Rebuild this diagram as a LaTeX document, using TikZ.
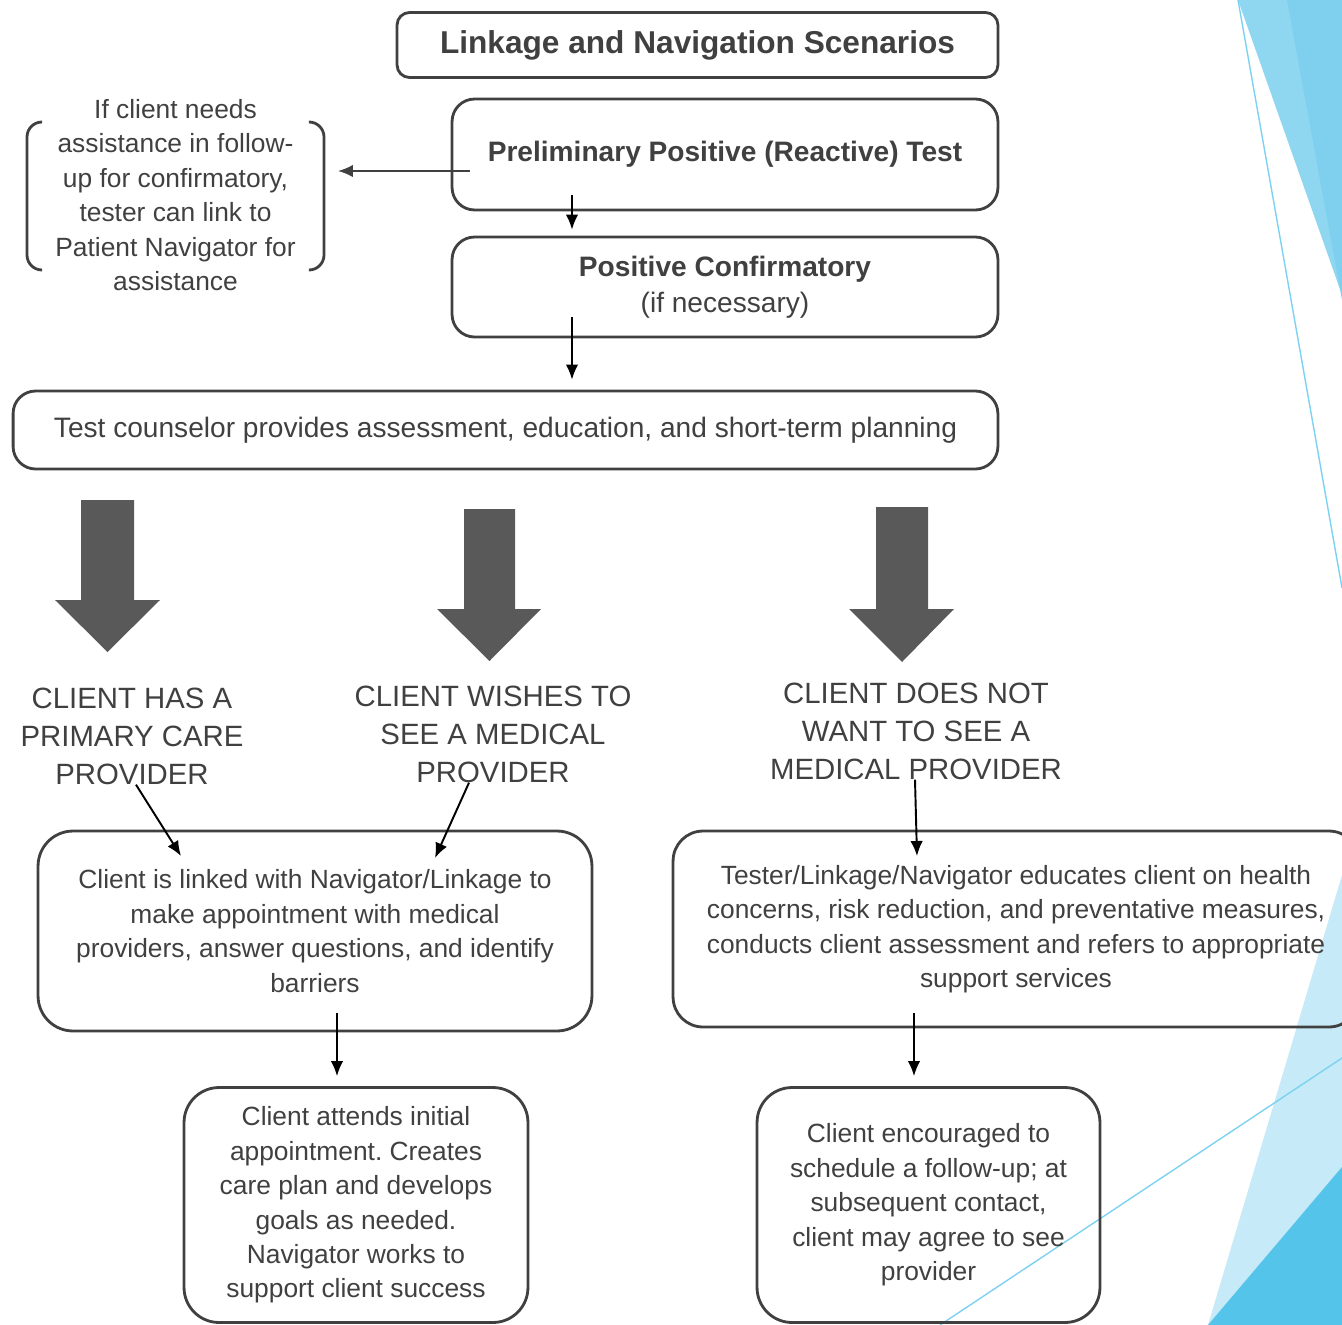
\documentclass[tikz,border=0pt]{standalone}
\usepackage{fontspec}
\setmainfont{Liberation Sans}
\frenchspacing
\usetikzlibrary{arrows.meta}
\usetikzlibrary{positioning}
\definecolor{ink}{HTML}{404040}
\definecolor{bigarrow}{HTML}{595959}
\definecolor{skyA}{HTML}{8FD7F1}
\definecolor{skyB}{HTML}{7ED0EE}
\definecolor{skyC}{HTML}{C6EAF7}
\definecolor{skyD}{HTML}{55C4EA}
\definecolor{skyLine}{HTML}{7CD2F0}
\tikzset{box/.style = {draw=ink, line width=1.6pt, rounded corners=0.45cm,
                       text=ink, align=center, inner sep=0pt}}
\tikzset{body/.style = {font=\fontsize{15}{19.6}\selectfont}}
\tikzset{cat/.style = {text=ink, align=center, inner sep=0pt,
                       font=\fontsize{16.7}{21.6}\selectfont}}
\tikzset{conn/.style = {-{Latex[length=0.3cm, width=0.25cm]}, line width=1.1pt, black}}

\begin{document}
\begin{tikzpicture}[x=0.02cm, y=-0.02cm]
    \useasboundingbox (0, 0) rectangle (1342, 1325);
    % corner decoration
    \fill [skyA] (1238, 0) -- (1342, 0) -- (1342, 295) -- cycle;
    \fill [skyB] (1287, 0) -- (1342, 0) -- (1342, 300) -- cycle;
    \draw [skyLine, line width=0.8pt] (1238, 0) -- (1342, 588);
    \fill [skyC] (1208, 1325) -- (1342, 875) -- (1342, 1325) -- cycle;
    \fill [skyD] (1208, 1325) -- (1342, 1167) -- (1342, 1325) -- cycle;
    \draw [skyLine, line width=0.8pt] (940, 1325) -- (1342, 1058);

    \node [box, rounded corners=0.25cm, minimum width=12.02cm, minimum height=1.3cm,
           font=\fontsize{18}{21}\selectfont\bfseries] (title) at (697.5, 45)
          {Linkage and Navigation Scenarios};
    \node [box, minimum width=10.92cm, minimum height=2.22cm,
           font=\fontsize{16}{19}\selectfont\bfseries] (prelim) at (725, 154.5)
          {Preliminary Positive (Reactive) Test};
    \node [box, minimum width=10.92cm, minimum height=2cm,
           font=\fontsize{16}{20.5}\selectfont] (confirm) at (725, 287)
          {\textbf{Positive Confirmatory}\\(if necessary)};
    \node [box, minimum width=19.7cm, minimum height=1.56cm,
           font=\fontsize{16}{19}\selectfont] (counsel) at (505.5, 430)
          {Test counselor provides assessment, education, and short-term planning};

    % side note in brackets
    \node [body, text=ink, align=center, minimum width=5.94cm, outer xsep=0.28cm]
          (guide) at (175.5, 195)
          {If client needs\\assistance in follow-\\up for confirmatory,\\tester can link to\\Patient Navigator for\\assistance};
    \draw [ink, line width=1.6pt, rounded corners=0.3cm] (41, 122) -- (27, 122) -- (27, 270) -- (41, 270);
    \draw [ink, line width=1.6pt, rounded corners=0.3cm] (310, 122) -- (324, 122) -- (324, 270) -- (310, 270);

    % block arrows
    \fill [bigarrow] (81, 500) -- (134, 500) -- (134, 600) -- (160, 600) -- (107.5, 652) -- (55, 600) -- (81, 600) -- cycle;
    \fill [bigarrow] (464, 509) -- (515, 509) -- (515, 609) -- (541, 609) -- (489.5, 661) -- (437, 609) -- (464, 609) -- cycle;
    \fill [bigarrow] (876, 507) -- (928, 507) -- (928, 609) -- (954, 609) -- (902, 662) -- (849, 609) -- (876, 609) -- cycle;

    \node [cat] (hasPCP) at (132, 736) {CLIENT HAS A\\PRIMARY CARE\\PROVIDER};
    \node [cat] (wishMP) at (493, 734) {CLIENT WISHES TO\\SEE A MEDICAL\\PROVIDER};
    \node [cat] (notMP) at (916, 731) {CLIENT DOES NOT\\WANT TO SEE A\\MEDICAL PROVIDER};

    \node [box, body, rounded corners=0.7cm, minimum width=11.08cm, minimum height=4cm]
          (linked) at (315, 931)
          {Client is linked with Navigator/Linkage to\\make appointment with medical\\providers, answer questions, and identify\\barriers};
    \node [box, body, rounded corners=0.6cm, minimum width=13.72cm, minimum height=3.92cm]
          (tester) at (1016, 929)
          {Tester/Linkage/Navigator educates client on health\\concerns, risk reduction, and preventative measures,\\conducts client assessment and refers to appropriate\\support services};
    \node [box, body, rounded corners=0.7cm, minimum width=6.88cm, minimum height=4.7cm]
          (attends) at (356, 1205)
          {Client attends initial\\appointment. Creates\\care plan and develops\\goals as needed.\\Navigator works to\\support client success};
    \node [box, body, rounded corners=0.7cm, minimum width=6.86cm, minimum height=4.7cm]
          (encour) at (928.5, 1205)
          {Client encouraged to\\schedule a follow-up; at\\subsequent contact,\\client may agree to see\\provider};

    % connectors
    \coordinate (prelimOut) at (470, 171);
    \coordinate (prelimDown) at (572, 195);
    \coordinate (confirmDown) at (572, 317);
    \coordinate (pcpIn) at (181, 856);
    \coordinate (wishIn) at (435, 858);
    \coordinate (notIn) at (917, 856);
    \coordinate (linkedDown) at (337, 1013);
    \coordinate (testerDown) at (914, 1013);
    \draw [conn, ink] (prelimOut) -- (guide.east |- prelimOut);
    \draw [conn, shorten >=0.12cm] (prelimDown) -- (prelimDown |- confirm.north);
    \draw [conn, shorten >=0.2cm] (confirmDown) -- (confirmDown |- counsel.north);
    \draw [conn] ([xshift=0.08cm]hasPCP.south) -- (pcpIn);
    \draw [conn] ([xshift=-0.48cm]wishMP.south) -- (wishIn);
    \draw [conn] ([xshift=-0.02cm]notMP.south) -- (notIn);
    \draw [conn, shorten >=0.2cm] (linkedDown) -- (linkedDown |- attends.north);
    \draw [conn, shorten >=0.2cm] (testerDown) -- (testerDown |- encour.north);
\end{tikzpicture}
\end{document}
